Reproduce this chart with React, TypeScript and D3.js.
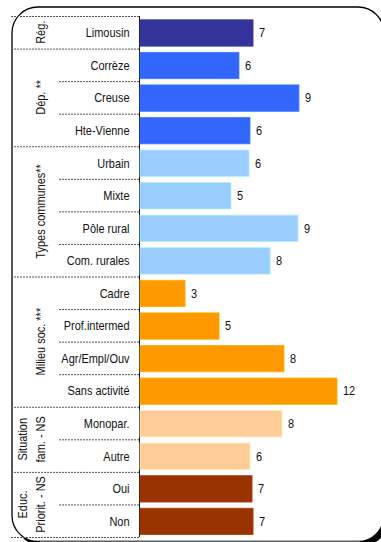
import React from "react";
import * as d3 from "d3";

const categories = [
  "Limousin", "Corrèze", "Creuse", "Hte-Vienne",
  "Urbain", "Mixte", "Pôle rural", "Com. rurales",
  "Cadre", "Prof.intermed", "Agr/Empl/Ouv", "Sans activité",
  "Monopar.", "Autre", "Oui", "Non",
];
const values = [6.65, 5.82, 9.35, 6.47, 6.41, 5.35, 9.29, 7.65, 2.65, 4.65, 8.47, 11.59, 8.35, 6.47, 6.59, 6.65];
const valueLabels = ["7", "6", "9", "6", "6", "5", "9", "8", "3", "5", "8", "12", "8", "6", "7", "7"];
const groupNames = [["Rég."], ["Dép. **"], ["Types communes**"], ["Milieu soc. ***"], ["Situation", "fam. - NS"], ["Educ.", "Priorit. - NS"]];
const groupSizes = [1, 3, 4, 4, 2, 2];
const groupColors = ["#333399", "#3366FF", "#99CCFF", "#FF9900", "#FFCC99", "#993300"];

const W = 381, H = 542;
const TOP = 16, BOTTOM = 537;
const AXIS_X = 139.5;
const FS = 13.2;
const SX = 0.83;

export default function App() {
  const y = d3.scaleBand<number>().domain(d3.range(categories.length)).range([TOP, BOTTOM]).paddingInner(0).paddingOuter(0);
  const x = d3.scaleLinear().domain([0, 14]).range([140, 140 + 14 * 17]);
  const rowH = y.bandwidth();

  const groupOf: number[] = [];
  const groupStart: number[] = [];
  let acc = 0;
  groupSizes.forEach((s, g) => {
    groupStart.push(acc);
    for (let i = 0; i < s; i++) groupOf.push(g);
    acc += s;
  });

  const textColor = "#111";
  const font = "'Liberation Sans', Arial, sans-serif";

  return (
    <svg width={W} height={H} style={{ position: "absolute", left: 0, top: 0 }} fontFamily={font}>
      <rect x={0} y={0} width={W} height={H} fill="#fff" />
      {/* frame shadow + frame */}
      <rect x={16} y={11} width={372} height={535} rx={26} fill="#000" />
      <rect x={12} y={7} width={372} height={534.5} rx={26} fill="#fff" stroke="#000" strokeWidth={1.3} />
      <line x1={40} x2={360} y1={541.2} y2={541.2} stroke="#888" strokeWidth={1} />

      {/* dashed separators */}
      {d3.range(categories.length + 1).map((i) => {
        const yy = i < categories.length ? (y(i) as number) : BOTTOM;
        const isGroupBoundary = i === 0 || i === categories.length || groupStart.includes(i);
        return (
          <line key={"sep" + i} x1={isGroupBoundary ? 11 : 59} x2={AXIS_X} y1={yy + 0.5} y2={yy + 0.5}
            stroke="#555" strokeWidth={1} strokeDasharray="2,1" />
        );
      })}
      <line x1={AXIS_X} x2={AXIS_X} y1={TOP} y2={BOTTOM} stroke="#111" strokeWidth={1} />

      {/* bars */}
      {values.map((v, i) => {
        const yy = (y(i) as number) + 3.8;
        const c = groupColors[groupOf[i]];
        return (
          <g key={"bar" + i}>
            <rect x={x(0)} y={yy} width={x(v) - x(0)} height={rowH - 6.2} fill={c}
              stroke={d3.color(c)!.brighter(0.4).toString()} strokeWidth={0.8} />
            <text transform={`translate(${x(v) + 6},${(y(i) as number) + rowH / 2 + 5}) scale(${SX},1)`}
              fontSize={FS} fill={textColor}>{valueLabels[i]}</text>
            <text transform={`translate(129.5,${(y(i) as number) + rowH / 2 + 5}) scale(${SX},1)`}
              fontSize={FS} fill={textColor} textAnchor="end">{categories[i]}</text>
          </g>
        );
      })}

      {/* group labels */}
      {groupNames.map((lines, g) => {
        const y0 = y(groupStart[g]) as number;
        const y1 = y0 + groupSizes[g] * rowH;
        const cy = (y0 + y1) / 2;
        const xs = lines.length === 1 ? [44.5] : [26.5, 45];
        return lines.map((ln, k) => (
          <text key={"g" + g + "-" + k}
            transform={`translate(${xs[k]},${cy}) rotate(-90) scale(${SX},1)`}
            fontSize={FS} fill={textColor} textAnchor="middle">{ln}</text>
        ));
      })}
    </svg>
  );
}
